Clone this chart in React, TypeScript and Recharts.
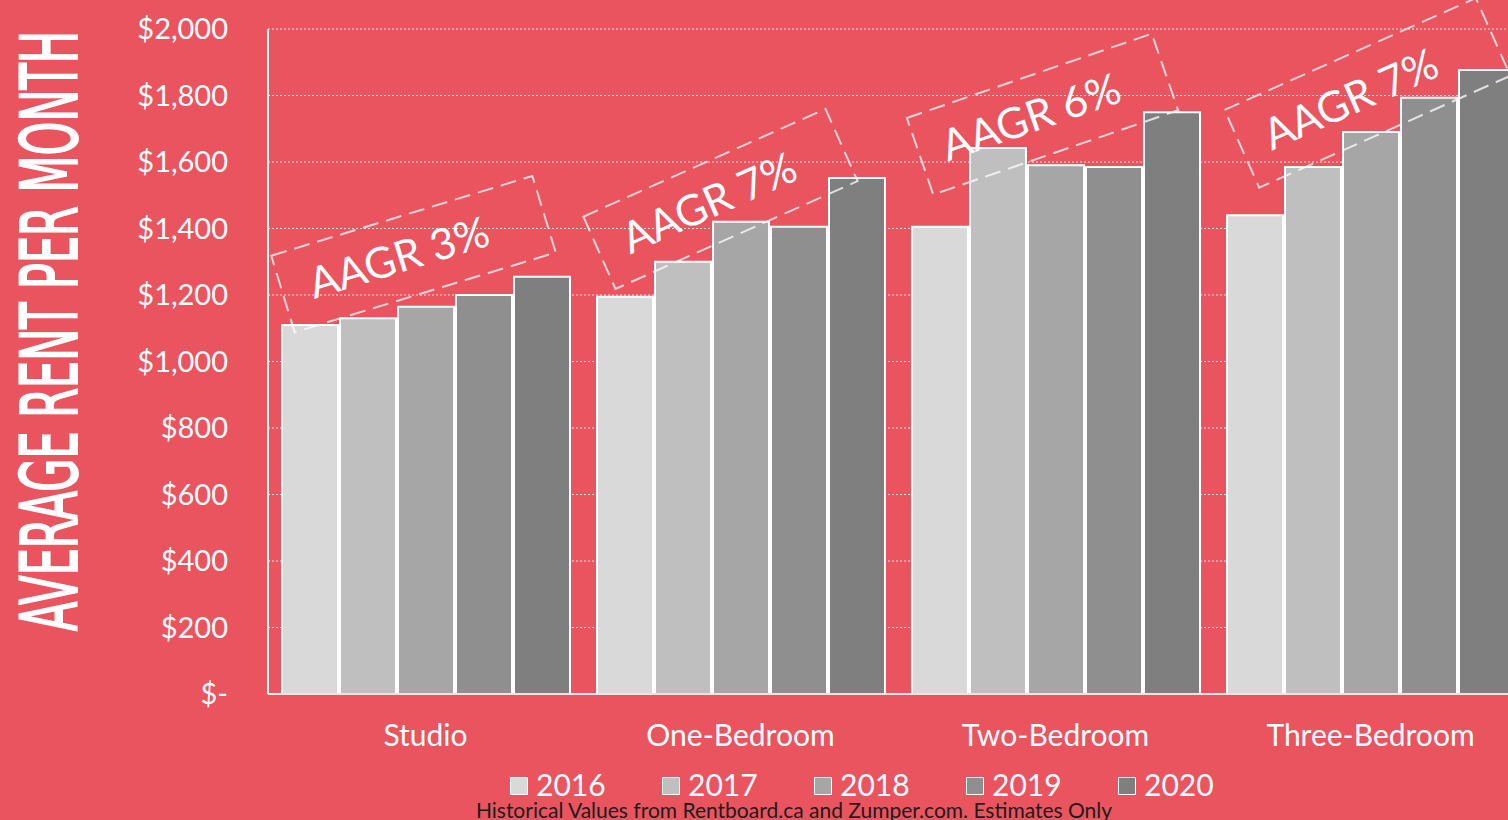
import { BarChart, Bar, XAxis, YAxis, CartesianGrid, Legend, ReferenceDot } from 'recharts'

// rent data (CAD / month)
const categories = ['Studio', 'One-Bedroom', 'Two-Bedroom', 'Three-Bedroom']
const years = ['2016', '2017', '2018', '2019', '2020']
const rent2016 = [1110, 1195, 1405, 1440]
const rent2017 = [1130, 1300, 1642, 1585]
const rent2018 = [1165, 1420, 1590, 1690]
const rent2019 = [1200, 1405, 1585, 1793]
const rent2020 = [1255, 1552, 1750, 1877]
const yTicks = [0, 200, 400, 600, 800, 1000, 1200, 1400, 1600, 1800, 2000]

// growth callouts, anchored on category + rent level
const aagrLabels = ['AAGR 3%', 'AAGR 7%', 'AAGR 6%', 'AAGR 7%']
const aagrLevel = [1323, 1489, 1744, 1808]

const BG = '#E9545F'
const GRAYS = ['#D9D9D9', '#BFBFBF', '#A6A6A6', '#8F8F8F', '#7F7F7F']
const FONT = 'Lato, "Open Sans", sans-serif'

const boxLayout = [
  { dx: -12, angle: -17, w: 273, h: 80, tx: -15 },
  { dx: -20, angle: -24, w: 265, h: 79, tx: -12 },
  { dx: -13, angle: -19, w: 259, h: 81, tx: -12 },
  { dx: -3, angle: -24, w: 275, h: 85, tx: -18 },
]

const series = [rent2016, rent2017, rent2018, rent2019, rent2020]
const data = categories.map((name, i) => {
  const row: Record<string, string | number> = { name }
  years.forEach((y, j) => { row[y] = series[j][i] })
  return row
})

const fmtRent = (v: number) => (v === 0 ? '$-' : '$' + v.toLocaleString('en-US'))

function AagrBox({ cx, cy, label, box }: any) {
  if (cx == null || cy == null) return null
  return (
    <g transform={`translate(${cx + box.dx}, ${cy}) rotate(${box.angle})`}>
      <rect
        x={-box.w / 2}
        y={-box.h / 2}
        width={box.w}
        height={box.h}
        fill="none"
        stroke="#fff"
        strokeOpacity={0.75}
        strokeWidth={2}
        strokeDasharray="16 8"
      />
      <text
        x={box.tx}
        y={14}
        textAnchor="middle"
        fill="#fff"
        fontSize={43}
        fontFamily={FONT}
      >
        {label}
      </text>
    </g>
  )
}

function LegendBlock() {
  return (
    <div style={{ width: 860, fontFamily: FONT }}>
      <div style={{ display: 'flex', paddingLeft: 90, height: 32, alignItems: 'center' }}>
        {years.map((y, i) => (
          <div key={y} style={{ display: 'flex', alignItems: 'center', width: 152, flexShrink: 0 }}>
            <span
              style={{
                width: 16,
                height: 16,
                flexShrink: 0,
                background: GRAYS[i],
                border: '1.5px solid #fff',
                marginRight: 8,
                marginTop: 4,
              }}
            />
            <span style={{ color: '#fff', fontSize: 30, lineHeight: '32px' }}>{y}</span>
          </div>
        ))}
      </div>
      <div
        style={{
          width: 760,
          marginLeft: -6,
          textAlign: 'center',
          color: '#1c1c1c',
          fontSize: 21,
          lineHeight: '20px',
          whiteSpace: 'nowrap',
        }}
      >
        Historical Values from Rentboard.ca and Zumper.com. Estimates Only
      </div>
    </div>
  )
}

export default function App() {
  return (
    <div
      style={{
        position: 'fixed',
        left: 0,
        top: 0,
        width: 1508,
        height: 820,
        overflow: 'hidden',
        background: BG,
      }}
    >
      <BarChart
        width={1560}
        height={820}
        data={data}
        margin={{ top: 29, right: 32, left: 0, bottom: 0 }}
        barCategoryGap={14}
        barGap={2}
      >
        <CartesianGrid vertical={false} stroke="#fff" strokeOpacity={0.85} strokeDasharray="2 2" />
        <XAxis
          dataKey="name"
          height={126}
          tickLine={false}
          tickSize={0}
          tickMargin={31}
          axisLine={{ stroke: '#E6E6E6', strokeWidth: 2 }}
          tick={{ fill: '#fff', fontSize: 30, fontFamily: FONT }}
        />
        <YAxis
          width={268}
          domain={[0, 2000]}
          ticks={yTicks}
          interval={0}
          tickFormatter={fmtRent}
          tickLine={false}
          tickSize={0}
          tickMargin={40}
          axisLine={{ stroke: '#fff', strokeWidth: 2 }}
          tick={{ fill: '#fff', fontSize: 29, fontFamily: FONT }}
          label={{
            content: () => (
              <text
                transform="translate(77, 331) rotate(-90)"
                textAnchor="middle"
                fill="#fff"
                stroke="#fff"
                strokeWidth={2}
                fontSize={79}
                fontFamily={'"DejaVu Sans Condensed", "Liberation Sans Narrow", "Roboto", sans-serif'}
                textLength={600}
                lengthAdjust="spacingAndGlyphs"
              >
                AVERAGE RENT PER MONTH
              </text>
            ),
          }}
        />
        {years.map((y, i) => (
          <Bar
            key={y}
            dataKey={y}
            fill={GRAYS[i]}
            stroke="#fff"
            strokeWidth={2}
            isAnimationActive={false}
          />
        ))}
        {categories.map((c, i) => (
          <ReferenceDot
            key={c}
            x={c}
            y={aagrLevel[i]}
            ifOverflow="visible"
            shape={(p: any) => (
              <AagrBox cx={p.cx} cy={p.cy} label={aagrLabels[i]} box={boxLayout[i]} />
            )}
          />
        ))}
        <Legend
          layout="horizontal"
          verticalAlign="middle"
          align="center"
          wrapperStyle={{ top: 768, left: 420, width: 860 }}
          content={() => <LegendBlock />}
        />
      </BarChart>
    </div>
  )
}
